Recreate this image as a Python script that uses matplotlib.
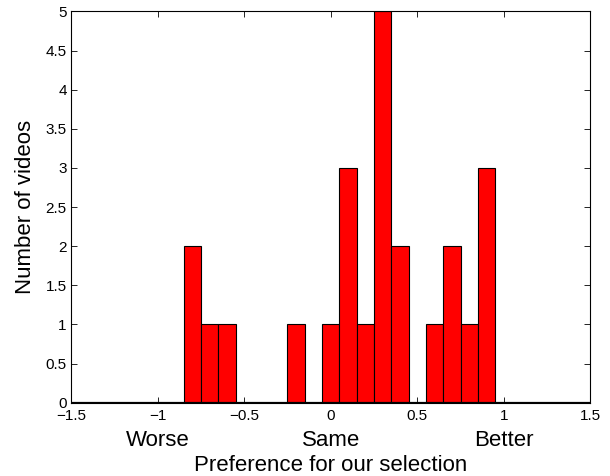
import matplotlib
matplotlib.use("Agg")
import matplotlib.pyplot as plt
import numpy as np

# Histogram bin centres and counts
bin_centers = [-0.8, -0.7, -0.6, -0.5, -0.4, -0.3, -0.2, -0.1, 0.0,
               0.1, 0.2, 0.3, 0.4, 0.5, 0.6, 0.7, 0.8, 0.9]
counts = [2, 1, 1, 0, 0, 0, 1, 0, 1, 3, 1, 5, 2, 0, 1, 2, 1, 3]
bin_width = 0.1

xticks = [-1.5, -1, -0.5, 0, 0.5, 1, 1.5]
yticks = [0, 0.5, 1, 1.5, 2, 2.5, 3, 3.5, 4, 4.5, 5]
category_pos = [-1, 0, 1]
category_labels = ["Worse", "Same", "Better"]

plt.rcParams["font.family"] = ["Liberation Sans", "DejaVu Sans"]

fig = plt.figure(figsize=(6.1, 4.76), dpi=100)
ax = fig.add_axes([0.1164, 0.154, 0.8516, 0.822])

ax.bar(bin_centers, counts, width=bin_width, color="#ff0000",
       edgecolor="black", linewidth=0.8, zorder=2)
ax.axhline(0, color="black", linewidth=1.6, zorder=3)

ax.set_xlim(-1.5, 1.5)
ax.set_ylim(0, 5)
ax.set_xticks(xticks)
ax.set_xticklabels([f"{t:g}".replace("-", "\u2212") for t in xticks])
ax.set_yticks(yticks)
ax.set_yticklabels([f"{t:g}" for t in yticks])
ax.tick_params(direction="in", top=True, right=True, labelsize=11,
               length=4, width=0.6, pad=3)
ax.tick_params(axis="x", pad=4.5)
for s in ax.spines.values():
    s.set_linewidth(0.8)

# category words under the -1 / 0 / 1 ticks
for pos, lab in zip(category_pos, category_labels):
    ax.text(pos, -0.1106, lab, transform=ax.get_xaxis_transform(),
            ha="center", va="baseline", fontsize=16)

ax.set_xlabel("Preference for our selection", fontsize=16)
ax.xaxis.set_label_coords(0.5, -0.1737)
ax.xaxis.label.set_va("baseline")
ax.set_ylabel("Number of videos", fontsize=16)
ax.yaxis.set_label_coords(-0.087, 0.5)
ax.yaxis.label.set_va("center")

fig.savefig("out.png", dpi=100)
